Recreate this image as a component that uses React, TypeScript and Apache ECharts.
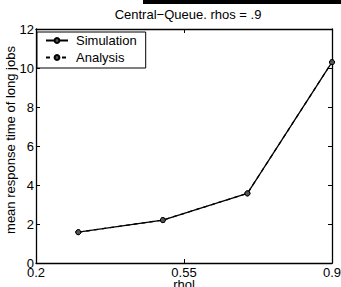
import React, { useEffect, useRef } from "react";
import * as echarts from "echarts";

const rhol = [0.3, 0.5, 0.7, 0.9];
const simulation = [1.58, 2.2, 3.57, 10.3];
const analysis = [1.58, 2.2, 3.57, 10.3];
const xTicks = [0.2, 0.55, 0.9];
const titleText = "Central\u2212Queue. rhos = .9";
const font = "'Liberation Sans', Arial, Helvetica, sans-serif";

export default function App() {
  const ref = useRef<HTMLDivElement>(null);
  useEffect(() => {
    if (!ref.current) return;
    const chart = echarts.init(ref.current, null, { renderer: "svg" });
    const axisCommon = {
      axisLine: { show: true, onZero: false, lineStyle: { color: "#000", width: 1.3 } },
      axisTick: { show: true, inside: true, length: 4, lineStyle: { color: "#000", width: 1 } },
      splitLine: { show: false },
    };
    chart.setOption({
      animation: false,
      backgroundColor: "#fff",
      textStyle: { fontFamily: font },
      title: {
        text: titleText,
        left: 183,
        textAlign: "center",
        top: 3,
        textStyle: { fontSize: 13, fontWeight: "normal", color: "#000", fontFamily: font },
      },
      graphic: [
        { type: "rect", shape: { x: 143, y: 0, width: 198, height: 4 }, style: { fill: "#000" } },
      ],
      legend: {
        orient: "vertical",
        left: 37,
        top: 32,
        padding: [2, 9, 4, 8],
        itemGap: 4,
        itemWidth: 22,
        itemHeight: 6,
        borderColor: "#000",
        borderWidth: 1,
        backgroundColor: "#fff",
        textStyle: { fontSize: 13, color: "#000", fontFamily: font, padding: [0, 0, 0, 3] },
        data: ["Simulation", "Analysis"],
      },
      grid: { left: 36, top: 29, width: 296, height: 234, containLabel: false, outerBoundsMode: "none" },
      xAxis: [
        {
          type: "value",
          min: 0.2,
          max: 0.9,
          interval: 0.35,
          position: "bottom",
          name: "rhol",
          nameLocation: "middle",
          nameGap: 15,
          nameMoveOverlap: false,
          nameTextStyle: { fontSize: 13, color: "#000", fontFamily: font },
          axisLabel: {
            show: true,
            margin: 3,
            fontSize: 13,
            color: "#000",
            fontFamily: font,
            showMinLabel: true,
            showMaxLabel: true,
            formatter: (v: number) => {
              const t = xTicks.find((x) => Math.abs(x - v) < 1e-6);
              return t === undefined ? "" : String(t);
            },
          },
          ...axisCommon,
        },
        {
          type: "value",
          min: 0.2,
          max: 0.9,
          interval: 0.35,
          position: "top",
          axisLabel: { show: false },
          ...axisCommon,
        },
      ],
      yAxis: [
        {
          type: "value",
          min: 0,
          max: 12,
          interval: 2,
          position: "left",
          name: "mean response time of long jobs",
          nameLocation: "middle",
          nameGap: 19,
          nameMoveOverlap: false,
          nameTextStyle: { fontSize: 13, color: "#000", fontFamily: font, padding: [0, 0, 0, 12] },
          axisLabel: { show: true, margin: 2, fontSize: 13, color: "#000", fontFamily: font },
          ...axisCommon,
        },
        {
          type: "value",
          min: 0,
          max: 12,
          interval: 2,
          position: "right",
          axisLabel: { show: false },
          ...axisCommon,
        },
      ],
      series: [
        {
          name: "Analysis",
          type: "line",
          data: rhol.map((x, i) => [x, analysis[i]]),
          symbol: "circle",
          symbolSize: 5,
          lineStyle: { color: "#000", width: 1.3, type: [4, 4] },
          itemStyle: { color: "#555", borderColor: "#000", borderWidth: 1 },
        },
        {
          name: "Simulation",
          type: "line",
          data: rhol.map((x, i) => [x, simulation[i]]),
          symbol: "circle",
          symbolSize: 5,
          lineStyle: { color: "#000", width: 1.3, type: "solid" },
          itemStyle: { color: "#555", borderColor: "#000", borderWidth: 1 },
        },
      ],
    });
    return () => chart.dispose();
  }, []);
  return <div ref={ref} style={{ width: 341, height: 287, position: "absolute", left: 0, top: 0 }} />;
}
